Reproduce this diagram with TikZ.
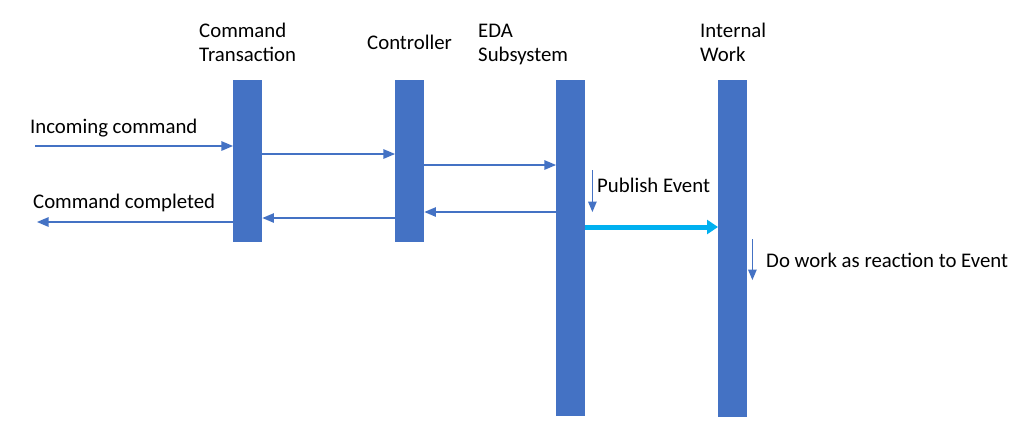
\documentclass[tikz,border=0pt]{standalone}
\usepackage{fontspec}
\setmainfont{Carlito}
\usepgflibrary{arrows}
\usetikzlibrary{arrows.meta}
\definecolor{barblue}{HTML}{4472C4}
\definecolor{evcyan}{HTML}{00B0F0}

\begin{document}
\begin{tikzpicture}[x=1pt,y=1pt,
  bar/.style={fill=barblue, minimum width=29pt, inner sep=0, anchor=north west},
  lbl/.style={inner sep=0, anchor=west, align=left, font=\fontsize{20.8}{24}\selectfont},
  msg/.style={draw=barblue, line width=1.7pt, -triangle 45},
  note/.style={draw=barblue, line width=1.4pt, -triangle 45},
  event/.style={draw=evcyan, line width=5pt, -{Triangle[length=11pt,width=14pt]}}]
\useasboundingbox (0,0) rectangle (1024,-445);
% lanes
\node[bar, minimum height=162pt] (cmd) at (233,-80){};
\node[bar, minimum height=162pt] (ctl) at (395,-80){};
\node[bar, minimum height=336pt] (eda) at (556,-80){};
\node[bar, minimum height=337pt] (work) at (718,-80){};
% headings
\node[lbl] (hcmd) at (199,-45){Command\strut\\Transaction\strut};
\node[lbl] (hctl) at (367,-45){Controller\strut};
\node[lbl] (heda) at (478,-45){EDA\strut\\Subsystem\strut};
\node[lbl] (hwork) at (700,-45){Internal\strut\\Work\strut};
% labels
\node[lbl] (lin) at (30,-129){Incoming command\strut};
\node[lbl] (lout) at (33,-204){Command completed\strut};
\node[lbl] (lpub) at (597,-188){Publish Event\strut};
\node[lbl] (lwork) at (766,-263){Do work as reaction to Event\strut};
% free ends
\coordinate (cmdin) at (35,-146);
\coordinate (cmdout) at (37,-222);
% messages
\draw[msg] (cmdin) -- (cmdin -| cmd.west);
\draw[msg] ([yshift=-74pt]cmd.north east) -- ([yshift=-74pt]ctl.north west);
\draw[msg] ([yshift=-85pt]ctl.north east) -- ([yshift=-85pt]eda.north west);
\draw[msg] ([yshift=-132pt]eda.north west) -- ([yshift=-132pt]ctl.north east);
\draw[msg] ([yshift=-138pt]ctl.north west) -- ([yshift=-138pt]cmd.north east);
\draw[msg] (cmdout -| cmd.west) -- (cmdout);
\draw[note] ([xshift=7pt,yshift=-90pt]eda.north east) -- ([xshift=7pt,yshift=-132pt]eda.north east);
\draw[event] ([yshift=-147pt]eda.north east) -- ([yshift=-147pt]work.north west);
\draw[note] ([xshift=5pt,yshift=-159pt]work.north east) -- ([xshift=5pt,yshift=-200pt]work.north east);
\end{tikzpicture}
\end{document}
